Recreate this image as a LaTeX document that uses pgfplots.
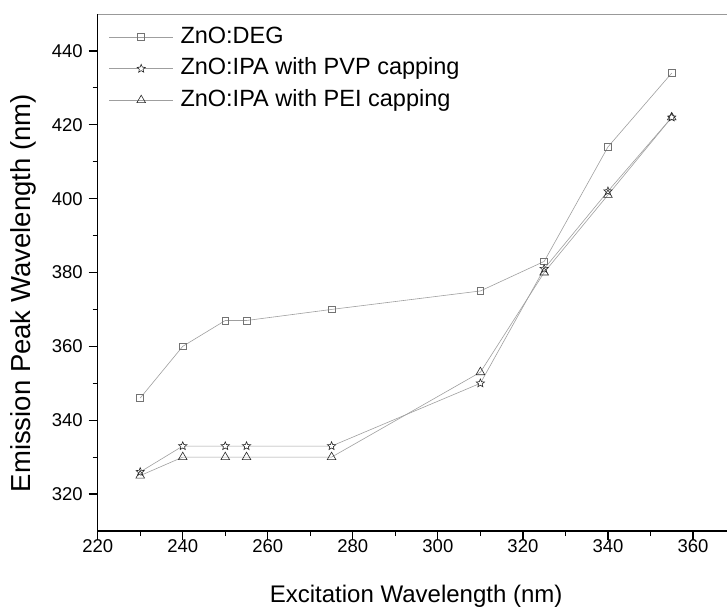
\documentclass[border=0pt]{standalone}
\usepackage{fontspec}
\setmainfont{Liberation Sans}
\usepackage{pgfplots}
\pgfplotsset{compat=1.18}
\newcommand\tl{\fontsize{18.5}{22}\selectfont}
\pgfdeclareplotmark{hstar}{%
  \pgfpathmoveto{\pgfpointpolar{90}{\pgfplotmarksize}}%
  \pgfpathlineto{\pgfpointpolar{126}{0.45\pgfplotmarksize}}%
  \pgfpathlineto{\pgfpointpolar{162}{\pgfplotmarksize}}%
  \pgfpathlineto{\pgfpointpolar{198}{0.45\pgfplotmarksize}}%
  \pgfpathlineto{\pgfpointpolar{234}{\pgfplotmarksize}}%
  \pgfpathlineto{\pgfpointpolar{270}{0.45\pgfplotmarksize}}%
  \pgfpathlineto{\pgfpointpolar{306}{\pgfplotmarksize}}%
  \pgfpathlineto{\pgfpointpolar{342}{0.45\pgfplotmarksize}}%
  \pgfpathlineto{\pgfpointpolar{18}{\pgfplotmarksize}}%
  \pgfpathlineto{\pgfpointpolar{54}{0.45\pgfplotmarksize}}%
  \pgfpathclose
  \pgfusepathqfillstroke}
\begin{document}
\begin{tikzpicture}
\begin{axis}[
  scale only axis,
  width=629.3pt, height=517pt,
  at={(0pt,0pt)}, anchor=south west,
  xmin=220, xmax=368, ymin=310, ymax=450,
  xtick={220,240,260,280,300,320,340,360},
  xticklabels={\tl 220,\tl 240,\tl 260,\tl 280,\tl 300,\tl 320,\tl 340,\tl 360},
  ytick={320,340,360,380,400,420,440},
  yticklabels={\tl 320,\tl 340,\tl 360,\tl 380,\tl 400,\tl 420,\tl 440},
  minor x tick num=1, minor y tick num=1,
  axis lines*=left,
  axis line style={line width=1.6pt, black},
  tick align=outside,
  major tick length=9pt, minor tick length=5pt,
  every tick/.style={black, line width=1.2pt},
  xticklabel style={yshift=4pt},
  yticklabel style={xshift=-2.5pt},
  xlabel={Excitation Wavelength (nm)},
  ylabel={Emission Peak Wavelength (nm)},
  xlabel style={font=\fontsize{24}{28}\selectfont, at={(axis description cs:0.506,-0.139)}, anchor=base},
  ylabel style={font=\fontsize{27.5}{32}\selectfont, at={(axis description cs:-0.106,0.46)}, anchor=base, rotate=0},
  legend cell align=left,
  legend style={draw=none, fill=none, at={(axis description cs:0,1)}, anchor=north west,
    xshift=8pt, yshift=-8pt, font=\fontsize{23.5}{27}\selectfont, row sep=5.5pt,
    nodes={inner sep=2pt, text height=17pt, text depth=5pt}},
  legend image code/.code={\draw[mark repeat=2,mark phase=2,#1] plot coordinates {(0pt,0pt) (32pt,0pt) (64pt,0pt)}; \path (69pt,0pt);},
]
\draw[gray!80, line width=0.8pt] (rel axis cs:0,1) -- (rel axis cs:1,1);
\addplot[gray!75, line width=0.6pt, mark=square, mark size=3.4pt, mark options={draw=gray!90!black, fill=white, line width=0.7pt}]
  coordinates {(230,346) (240,360) (250,367) (255,367) (275,370) (310,375) (325,383) (340,414) (355,434)};
\addlegendentry{ZnO:DEG}
\addplot[gray!75, line width=0.6pt, mark=hstar, mark size=4.3pt, mark options={draw=black!85, fill=white, line width=0.6pt}]
  coordinates {(230,326) (240,333) (250,333) (255,333) (275,333) (310,350) (325,381) (340,402) (355,422)};
\addlegendentry{ZnO:IPA with PVP capping}
\addplot[gray!75, line width=0.6pt, mark=triangle, mark size=5pt, mark options={draw=black!85, fill=white, line width=0.6pt}]
  coordinates {(230,325) (240,330) (250,330) (255,330) (275,330) (310,353) (325,380) (340,401) (355,422)};
\addlegendentry{ZnO:IPA with PEI capping}
\end{axis}
\pgfresetboundingbox
\path (-97.7pt,-76pt) rectangle (629.3pt,531pt);
\end{tikzpicture}
\end{document}
